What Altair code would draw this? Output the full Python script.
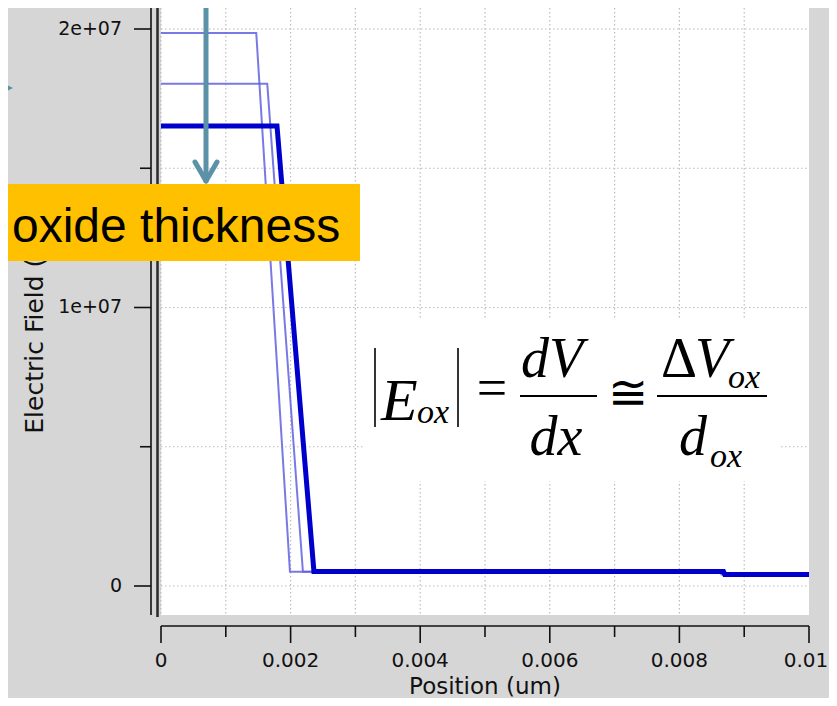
import altair as alt
import pandas as pd

# ---------------- data ----------------
# Position (um) / Electric Field (V/cm) for the three oxide thicknesses
THIN_A_POS = [0.0, 0.00147, 0.00199, 0.00862, 0.00865, 0.01]
THIN_A_FIELD = [1.986e7, 1.986e7, 5.1e5, 5.1e5, 4.1e5, 4.1e5]
THIN_B_POS = [0.0, 0.00164, 0.00219, 0.00865, 0.00868, 0.01]
THIN_B_FIELD = [1.803e7, 1.803e7, 5.1e5, 5.1e5, 4.1e5, 4.1e5]
THICK_POS = [0.0, 0.00179, 0.00236, 0.00868, 0.00870, 0.01]
THICK_FIELD = [1.652e7, 1.652e7, 5.2e5, 5.2e5, 4.1e5, 4.1e5]

X_MAJOR = [0, 0.002, 0.004, 0.006, 0.008, 0.01]
X_LABELS = ["0", "0.002", "0.004", "0.006", "0.008", "0.01"]
X_MINOR = [0.001, 0.003, 0.005, 0.007, 0.009]
X_GRID = [0, 0.001, 0.002, 0.003, 0.004, 0.005, 0.006, 0.007, 0.008, 0.009]
Y_MAJOR = [0, 1e7, 2e7]
Y_LABELS = ["0", "1e+07", "2e+07"]
Y_MINOR = [5e6, 1.5e7]
Y_GRID = [0, 5e6, 1e7, 1.5e7, 2e7]

X_TITLE = "Position (um)"
Y_TITLE = "Electric Field (V/cm)"
CALLOUT = "oxide thickness"

# ---------------- layout ----------------
W, H = 648, 607
OX, OY = 161, 8  # page position of plot origin


def px(v):
    return v - OX


def py(v):
    return v - OY


rows = []
for name, xs_, ys_ in [("a", THIN_A_POS, THIN_A_FIELD),
                       ("b", THIN_B_POS, THIN_B_FIELD),
                       ("t", THICK_POS, THICK_FIELD)]:
    for i, (x, y) in enumerate(zip(xs_, ys_)):
        rows.append({"series": name, "i": i, "pos": x, "field": y})
df = pd.DataFrame(rows)
df_thin = df[df.series != "t"]
df_thick = df[df.series == "t"]

xs = alt.Scale(domain=[0, 0.01], nice=False, zero=False)
ys = alt.Scale(domain=[-1.0413e6, 2.0754e7], nice=False, zero=False)

one = pd.DataFrame({"k": [0]})
GRID = "#bcbcbc"
AX = "#111111"
TICKFONT = "DejaVu Sans"

grid_x = alt.Chart(pd.DataFrame({"g": X_GRID})).mark_rule(
    color=GRID, strokeWidth=1.2, strokeDash=[1.5, 2.5]).encode(
    x=alt.X("g:Q", scale=xs, axis=None), y=alt.value(0), y2=alt.value(H))
grid_y = alt.Chart(pd.DataFrame({"g": Y_GRID})).mark_rule(
    color=GRID, strokeWidth=1.2, strokeDash=[1.5, 2.5]).encode(
    y=alt.Y("g:Q", scale=ys, axis=None), x=alt.value(0), x2=alt.value(W))

# ---- hand-drawn axes (offset from the plot area like the original) ----
X_AX = py(626)   # x axis line
Y_AX = px(151)   # y axis line

x_domain = alt.Chart(one).mark_rule(color=AX, strokeWidth=1.6).encode(
    x=alt.value(0), x2=alt.value(W), y=alt.value(X_AX))
x_major = alt.Chart(pd.DataFrame({"v": X_MAJOR})).mark_rule(color=AX, strokeWidth=1.6).encode(
    x=alt.X("v:Q", scale=xs, axis=None), y=alt.value(X_AX), y2=alt.value(X_AX + 17))
x_minor = alt.Chart(pd.DataFrame({"m": X_MINOR})).mark_rule(color=AX, strokeWidth=1.6).encode(
    x=alt.X("m:Q", scale=xs, axis=None), y=alt.value(X_AX), y2=alt.value(X_AX + 11))
x_lab_df = pd.DataFrame({"v": X_MAJOR, "t": X_LABELS})
x_labels = alt.Chart(x_lab_df.iloc[:-1]).mark_text(
    font=TICKFONT, fontSize=20, color=AX, align="center", baseline="alphabetic").encode(
    x=alt.X("v:Q", scale=xs, axis=None), y=alt.value(py(667)), text="t:N")
x_label_last = alt.Chart(x_lab_df.iloc[-1:]).mark_text(
    font=TICKFONT, fontSize=20, color=AX, align="center", baseline="alphabetic", dx=-3).encode(
    x=alt.X("v:Q", scale=xs, axis=None), y=alt.value(py(667)), text="t:N")

y_domain = alt.Chart(one).mark_rule(color=AX, strokeWidth=1.6).encode(
    y=alt.value(0), y2=alt.value(H), x=alt.value(Y_AX))
y_major = alt.Chart(pd.DataFrame({"v": Y_MAJOR})).mark_rule(color=AX, strokeWidth=1.6).encode(
    y=alt.Y("v:Q", scale=ys, axis=None), x=alt.value(Y_AX - 17), x2=alt.value(Y_AX))
y_minor = alt.Chart(pd.DataFrame({"m": Y_MINOR})).mark_rule(color=AX, strokeWidth=1.6).encode(
    y=alt.Y("m:Q", scale=ys, axis=None), x=alt.value(Y_AX - 11), x2=alt.value(Y_AX))
y_labels = alt.Chart(pd.DataFrame({"v": Y_MAJOR, "t": Y_LABELS})).mark_text(
    font=TICKFONT, fontSize=19, color=AX, align="right", baseline="middle").encode(
    y=alt.Y("v:Q", scale=ys, axis=None), x=alt.value(px(122)), text="t:N")

frame_left = alt.Chart(one).mark_rule(color="#2a2a2a", strokeWidth=2.5).encode(
    x=alt.value(-3.5), y=alt.value(0), y2=alt.value(H + 2))

eq_box = alt.Chart(one).mark_rect(color="white").encode(
    x=alt.value(px(363)), x2=alt.value(px(780)), y=alt.value(py(320)), y2=alt.value(py(481)))

thin = alt.Chart(df_thin).mark_line(
    strokeWidth=2, color="#6262e0", opacity=0.85, strokeJoin="miter").encode(
    x=alt.X("pos:Q", scale=xs, axis=None),
    y=alt.Y("field:Q", scale=ys, axis=None),
    detail="series:N", order="i:Q")
thick = alt.Chart(df_thick).mark_line(
    strokeWidth=5, color="#0000cc", strokeJoin="miter").encode(
    x=alt.X("pos:Q", scale=xs, axis=None),
    y=alt.Y("field:Q", scale=ys, axis=None),
    order="i:Q")


def txt(text, x, y, size, italic=True, align="left", font="Liberation Serif", angle=0,
        color="black", baseline="alphabetic"):
    return alt.Chart(one).mark_text(
        text=text, font=font, fontSize=size, fontStyle="italic" if italic else "normal",
        align=align, baseline=baseline, color=color, angle=angle).encode(
        x=alt.value(px(x)), y=alt.value(py(y)))


def rule(x1, y1, x2, y2, color="black", width=1.5, cap="butt"):
    return alt.Chart(one).mark_rule(color=color, strokeWidth=width, strokeCap=cap).encode(
        x=alt.value(px(x1)), y=alt.value(py(y1)), x2=alt.value(px(x2)), y2=alt.value(py(y2)))


x_title = txt(X_TITLE, 485, 694, 23, italic=False, align="center", font=TICKFONT, color=AX)
y_title = txt(Y_TITLE, 35, 309, 25, italic=False, align="center", font=TICKFONT,
              angle=270, color=AX, baseline="middle")

# equation |E_ox| = dV/dx ≅ ΔV_ox / d_ox
equation = [
    rule(375, 348, 375, 427, width=1.6),
    txt("E", 381, 420, 60),
    txt("ox", 417, 423, 34),
    rule(458, 348, 458, 427, width=1.6),
    txt("=", 492, 406, 54, italic=False, align="center"),
    txt("dV", 521, 377, 56),
    rule(520, 396, 597, 396, width=2),
    txt("dx", 556, 455, 56, align="center"),
    txt("≅", 628, 409, 48, italic=False, align="center", font="DejaVu Serif"),
    txt("Δ", 661, 377, 56, italic=False),
    txt("V", 695, 377, 56),
    txt("ox", 728, 388, 34),
    rule(657, 396, 767, 396, width=2),
    txt("d", 679, 455, 56),
    txt("ox", 710, 467, 34),
]

ARROW = "#5b92a8"
orange = alt.Chart(one).mark_rect(color="#ffc000").encode(
    x=alt.value(px(0)), x2=alt.value(px(360)), y=alt.value(py(184)), y2=alt.value(py(261)))
callout = txt(CALLOUT, 12, 242, 48, italic=False, font="Liberation Sans")
arrow = [
    rule(206, 0, 206, 180, color=ARROW, width=5),
    rule(195, 162, 206, 181, color=ARROW, width=5, cap="round"),
    rule(217, 162, 206, 181, color=ARROW, width=5, cap="round"),
]
pointer = alt.Chart(one).mark_point(
    shape="M-1,-1L1,0L-1,1Z", size=289, filled=True, color=ARROW, opacity=1).encode(
    x=alt.value(px(4.5)), y=alt.value(py(88)))

layers = [grid_x, grid_y, eq_box, frame_left,
          x_domain, x_major, x_minor, x_labels, x_label_last,
          y_domain, y_major, y_minor, y_labels,
          thin, thick, x_title, y_title] + equation + [orange, callout] + arrow + [pointer]

chart = alt.layer(*layers).properties(
    width=W, height=H,
    background="#d6d6d6",
    padding={"left": 153, "top": 0, "right": 20, "bottom": 83},
    autosize=alt.AutoSizeParams(type="none"),
).configure_view(fill="white", strokeWidth=0)

chart.save("out.html", embed_options={"renderer": "svg", "actions": False})
